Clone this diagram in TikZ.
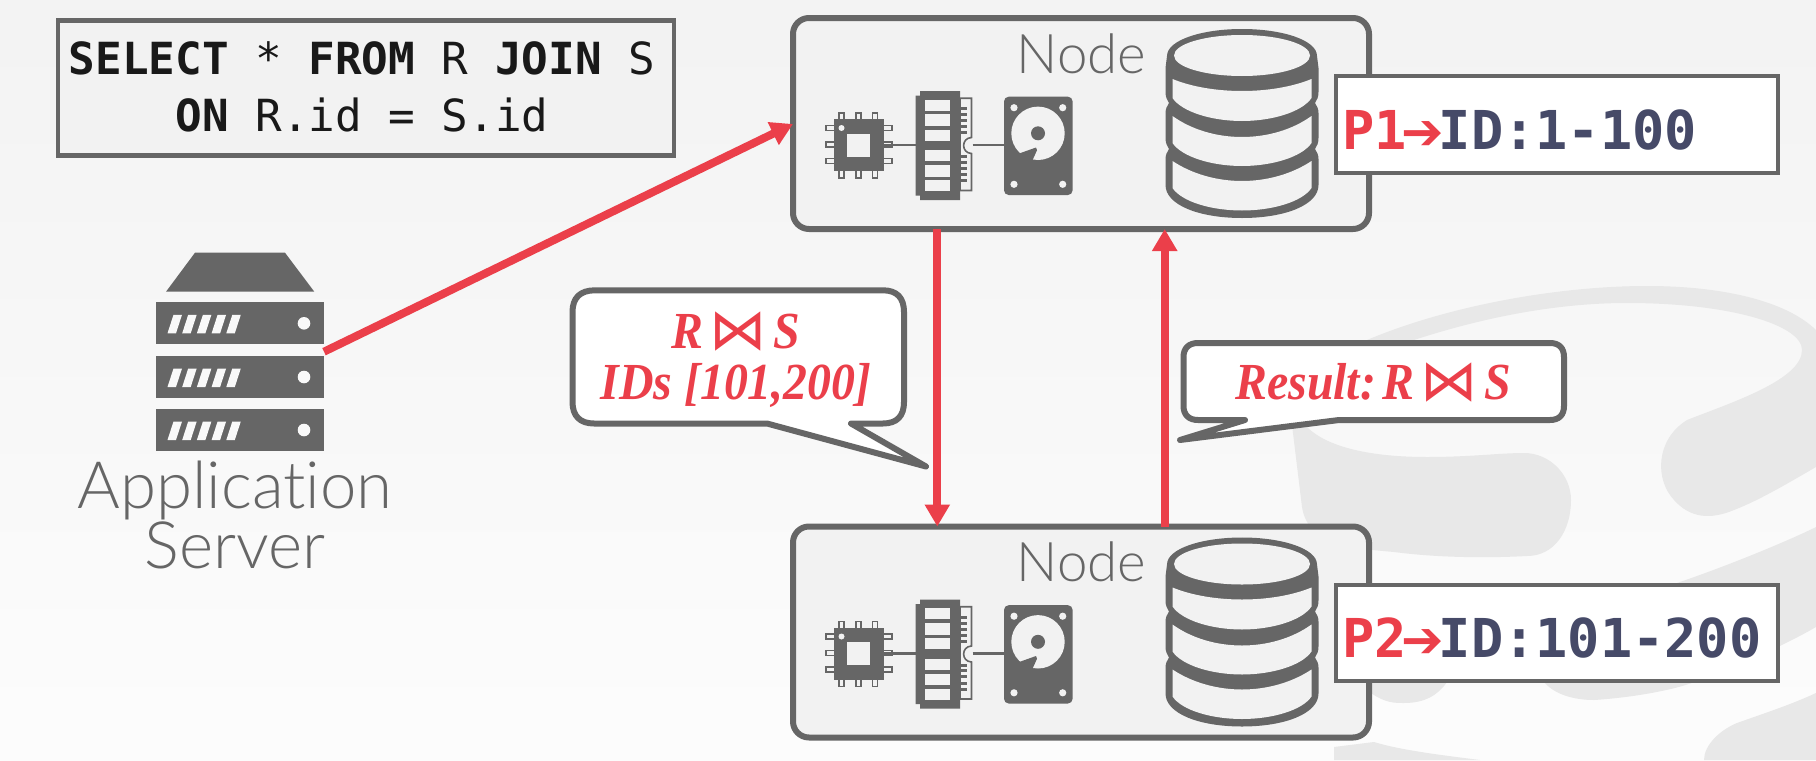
\documentclass[tikz,border=0pt]{standalone}
\usepackage{fontspec}
\usetikzlibrary{arrows.meta}
\newfontfamily\lightfont[Ligatures=NoCommon]{Lato Light}
\newfontfamily\monofont{DejaVu Sans Mono}
\newfontfamily\serifont[FakeStretch=0.92]{Liberation Serif}
\newfontfamily\symbfont{DejaVu Sans}
\definecolor{darkgrey}{HTML}{666666}
\definecolor{panelgrey}{HTML}{F2F2F2}
\definecolor{markgrey}{HTML}{E8E8E8}
\definecolor{redline}{HTML}{EB3F4A}
\definecolor{inkblue}{HTML}{464A68}
\tikzset{every picture/.style={line width=0.75pt}}
\tikzset{
  nodebox/.style={draw=darkgrey,fill=panelgrey,line width=4.5pt,rounded corners=12pt,inner sep=0pt,outer sep=0pt,minimum width=432pt,minimum height=158.25pt},
  partbox/.style={draw=darkgrey,fill=white,line width=3pt,inner sep=0pt,outer sep=0pt,minimum width=331pt,minimum height=72.5pt},
  sqlbox/.style={draw=darkgrey,fill=panelgrey,line width=3.4pt,inner sep=0pt,outer sep=0pt,minimum width=462pt,minimum height=101.5pt},
  hidden/.style={inner sep=0pt,outer sep=0pt},
  bubble/.style={draw=darkgrey,fill=white,line width=4.5pt,line join=round},
  flow/.style={draw=redline,line width=6pt,-{Triangle[length=16.5pt,width=18pt]}},
  lighttext/.style={font=\lightfont\fontsize{41}{41}\selectfont,text=darkgrey},
  bubbletext/.style={font=\serifont\bfseries\itshape\fontsize{39}{38.5}\selectfont,text=redline,align=center},
  parttext/.style={font=\monofont\bfseries\fontsize{40.2}{40.2}\selectfont,text=inkblue,anchor=base west,hidden},
}
\newcommand{\RS}{R\hspace{.12em}\smash{\symbfont\mdseries\upshape\fontsize{43}{43}\selectfont\raisebox{-1pt}{⋈}}\hspace{.12em}S}
\newcommand{\partarrow}{\makebox[24.2pt][c]{\symbfont\bfseries\fontsize{38}{38}\selectfont ➔}}
% chip, memory, disk and database inside one node box
\newcommand{\nodeparts}[1]{
\begin{scope}[shift={(0,#1)}]
%Chip
\foreach \p in {128,144.5,161}{
  \draw [darkgrey,fill=panelgrey,line width=1.2pt] (826,\p-2.5) rectangle (892,\p+2.5) ;
}
\foreach \p in {841.5,858.5,875}{
  \draw [darkgrey,fill=panelgrey,line width=1.2pt] (\p-2.5,113) rectangle (\p+2.5,178) ;
}
\fill [darkgrey] (833.5,119) rectangle (884,171) ;
\fill [panelgrey] (846.5,133.5) rectangle (870,156.5) ;
\fill [panelgrey] (841.5,128) circle (3) ;
\draw [darkgrey,line width=1.9pt] (884,145) -- (916,145) ;
%Memory
\draw [darkgrey,fill=panelgrey,line width=1.2pt] (960,98.2) -- (971.5,98.2) -- (971.5,137.5) .. controls (961,138) and (961,153) .. (971.5,153.5) -- (971.5,190.5) -- (960,190.5) -- cycle ;
\foreach \p in {108.8,114.8,120.6,126.5,132.5,156.5,162.3,168.3,174.8,180.8}{
  \fill [darkgrey] (960,\p-1.5) rectangle (967,\p+1.5) ;
}
\fill [darkgrey] (915.7,95.5) -- (920,95.5) -- (920,91) -- (960,91) -- (960,200) -- (920,200) -- (920,195.5) -- (915.7,195.5) -- cycle ;
\foreach \p/\q in {99.5/110.7,114/126,129.5/140.7,150/161.3,165/176.5,180/191}{
  \fill [panelgrey] (924.5,\p) rectangle (950,\q) ;
}
\draw [darkgrey,line width=1.9pt] (972.5,145) -- (1005,145) ;
%Disk
\fill [darkgrey,rounded corners=3.5pt] (1004,96.7) rectangle (1072.6,195) ;
\foreach \p/\q in {1014/107.7,1062.7/107.7,1014/184.3,1062.7/184.3}{
  \fill [panelgrey] (\p,\q) circle (3.6) ;
}
\fill [panelgrey] (1038,133.3) circle (26.7) ;
\fill [darkgrey] (1038,133.3) circle (7) ;
\fill [darkgrey] (1020,153.2) -- (1036,147.5) -- (1037,150.2) -- (1032.7,159.8) -- (1028,165) -- (1012,158) -- cycle ;
%Database
\begin{scope}[shift={(1242,0)}]
\foreach \s in {1,-1}{
  \fill [darkgrey,xscale=\s] (0,29) .. controls (40,29) and (75,40) .. (75,56) -- (76.5,68) -- (76.5,92) .. controls (76.5,97) and (75,100) .. (73,103) .. controls (75,106) and (76.5,109) .. (76.5,113) -- (76.5,138) .. controls (76.5,143) and (75,146) .. (73,149) .. controls (75,152) and (76.5,155) .. (76.5,159) -- (76.5,185) .. controls (76.5,205) and (43,218) .. (0,218) -- cycle ;
}
\fill [panelgrey] (0,55.5) ellipse [x radius=68,y radius=20.5] ;
\fill [panelgrey] (-69.5,79) .. controls (-50,87) and (-25,91) .. (0,91) .. controls (25,91) and (50,87) .. (69.5,79) -- (69.5,98) .. controls (60,112) and (30,121) .. (0,121) .. controls (-30,121) and (-60,112) .. (-69.5,98) -- cycle ;
\fill [panelgrey] (-69.5,116) .. controls (-50,130) and (-25,137) .. (0,137) .. controls (25,137) and (50,130) .. (69.5,116) -- (69.5,143) .. controls (60,157) and (30,166) .. (0,166) .. controls (-30,166) and (-60,157) .. (-69.5,143) -- cycle ;
\fill [panelgrey] (-69.5,161) .. controls (-50,174) and (-25,181) .. (0,181) .. controls (25,181) and (50,174) .. (69.5,161) -- (69.5,188) .. controls (60,202) and (30,210.5) .. (0,210.5) .. controls (-30,210.5) and (-60,202) .. (-69.5,188) -- cycle ;
\end{scope}
\end{scope}
}

\begin{document}
\begin{tikzpicture}[x=0.75pt,y=0.75pt,yscale=-1,xscale=1]
\useasboundingbox (0,0) rectangle (1816,760);

%Background
\shade [top color=panelgrey!95!white,middle color=white!98!black,bottom color=white!99!black] (0,0) rectangle (1816,760) ;
%Watermark
\fill [markgrey] (1292,425) .. controls (1285,395) and (1320,360) .. (1367,340) .. controls (1450,305) and (1560,286) .. (1647,286) .. controls (1720,286) and (1785,300) .. (1816,330) -- (1816,467) .. controls (1790,482) and (1760,500) .. (1734,510) .. controls (1710,520) and (1690,518) .. (1674,500) .. controls (1655,480) and (1655,440) .. (1687,420) .. controls (1730,403) and (1802,380) .. (1802,350) .. controls (1802,325) and (1730,303) .. (1627,303) .. controls (1540,303) and (1460,325) .. (1414,340) .. controls (1350,362) and (1290,395) .. (1307,427) .. controls (1330,450) and (1380,457) .. (1427,457) .. controls (1470,457) and (1500,453) .. (1524,453) .. controls (1550,453) and (1571,475) .. (1571,500) .. controls (1571,530) and (1555,556) .. (1527,556) .. controls (1490,558) and (1440,558) .. (1394,552) .. controls (1350,548) and (1308,545) .. (1302,507) -- cycle ;
\fill [markgrey] (1371,590) -- (1371,693) .. controls (1385,703) and (1395,703) .. (1404,703) .. controls (1425,703) and (1438,695) .. (1447,682) -- (1500,600) -- (1544,682) .. controls (1555,695) and (1575,700) .. (1594,700) .. controls (1640,697) and (1680,688) .. (1694,682) .. controls (1740,665) and (1785,645) .. (1816,627) -- (1816,527) .. controls (1790,540) and (1730,565) .. (1677,583) -- (1600,600) -- cycle ;
\fill [markgrey] (1334,760) -- (1334,747) -- (1374,742) .. controls (1400,750) and (1440,755) .. (1480,760) -- cycle ;
\fill [markgrey] (1704,760) .. controls (1704,745) and (1720,730) .. (1737,723) .. controls (1765,713) and (1790,705) .. (1816,693) -- (1816,760) -- cycle ;

%Query
\node (query) [sqlbox] at (366,88) {};
\node (querytext) [hidden,font=\monofont\fontsize{33.2}{42.5}\selectfont,text=black!90,align=center] at (362,87) {\textbf{SELECT} * \textbf{FROM} R \textbf{JOIN} S\\\textbf{ON} R.id = S.id};

%Application server
\node (server) [hidden,minimum width=126pt,minimum height=148.5pt] at (240,351.7) {};
\fill [darkgrey] (166,291.7) -- (195,252.7) -- (285,252.7) -- (314.3,291.7) -- cycle ;
\foreach \p in {302.3,356,409}{
  \fill [darkgrey] (156,\p) rectangle (324,\p+42) ;
  \foreach \q in {0,1,2,3,4}{
    \fill [panelgrey!50!white] (167.5+\q*14.7,\p+31) -- (176+\q*14.7,\p+31) -- (182+\q*14.7,\p+12.5) -- (173.5+\q*14.7,\p+12.5) -- cycle ;
  }
  \fill [panelgrey!50!white] (304,\p+21) circle (6.3) ;
}
\node (serverlabel) [hidden,lighttext,font=\lightfont\fontsize{49}{45.5}\selectfont,align=center] at (235,515) {Application\\Server};

%Nodes
\node (nodeA) [nodebox] at (1081,123.5) {};
\node (nodeB) [nodebox] at (1081,632) {};
\nodeparts{0}
\nodeparts{508.5}
\node (nodeAlabel) [hidden,lighttext,anchor=base] at (1081.5,73) {Node};
\node (nodeBlabel) [hidden,lighttext,anchor=base] at (1081.5,581.5) {Node};

%Partitions
\node (partA) [partbox] at (1557,124.5) {};
\node (partB) [partbox] at (1557,633) {};
\node (partAtext) [parttext] at (1342,149) {\textcolor{redline}{P1\partarrow}ID:1-100};
\node (partBtext) [parttext] at (1342,657.5) {\textcolor{redline}{P2\partarrow}ID:101-200};

%Bubbles
\draw [bubble] (595,290.3) -- (883,290.3) .. controls (897,290.3) and (904,298) .. (904,312) -- (904,402) .. controls (904,416) and (897,423.5) .. (883,423.5) -- (851,423.5) -- (926,466.5) -- (767,423.5) -- (594,423.5) .. controls (580,423.5) and (572.5,416) .. (572.5,402) -- (572.5,312) .. controls (572.5,298) and (580,290.3) .. (595,290.3) -- cycle ;
\node (bubbleAtext) [hidden,bubbletext] at (736,360.5) {\RS\\IDs [101,200]};
\draw [bubble] (1198,343) -- (1550,343) .. controls (1559,343) and (1564,348) .. (1564,357) -- (1564,406) .. controls (1564,415) and (1559,420) .. (1550,420) -- (1339,420) -- (1180,440) -- (1245,420) -- (1198,420) .. controls (1189,420) and (1183.5,415) .. (1183.5,406) -- (1183.5,357) .. controls (1183.5,348) and (1189,343) .. (1198,343) -- cycle ;
\node (bubbleBtext) [hidden,bubbletext,anchor=base] at (1373,399.5) {Result:\hspace{.12em}\RS};

%Connectors
\draw [flow] (server.east) -- (nodeA.west |- 0,124) ;
\draw [flow] (937.3,0 |- nodeA.south) -- (937.3,0 |- nodeB.north) ;
\draw [flow] (1164.7,0 |- nodeB.north) -- (1164.7,0 |- nodeA.south) ;
\end{tikzpicture}
\end{document}
